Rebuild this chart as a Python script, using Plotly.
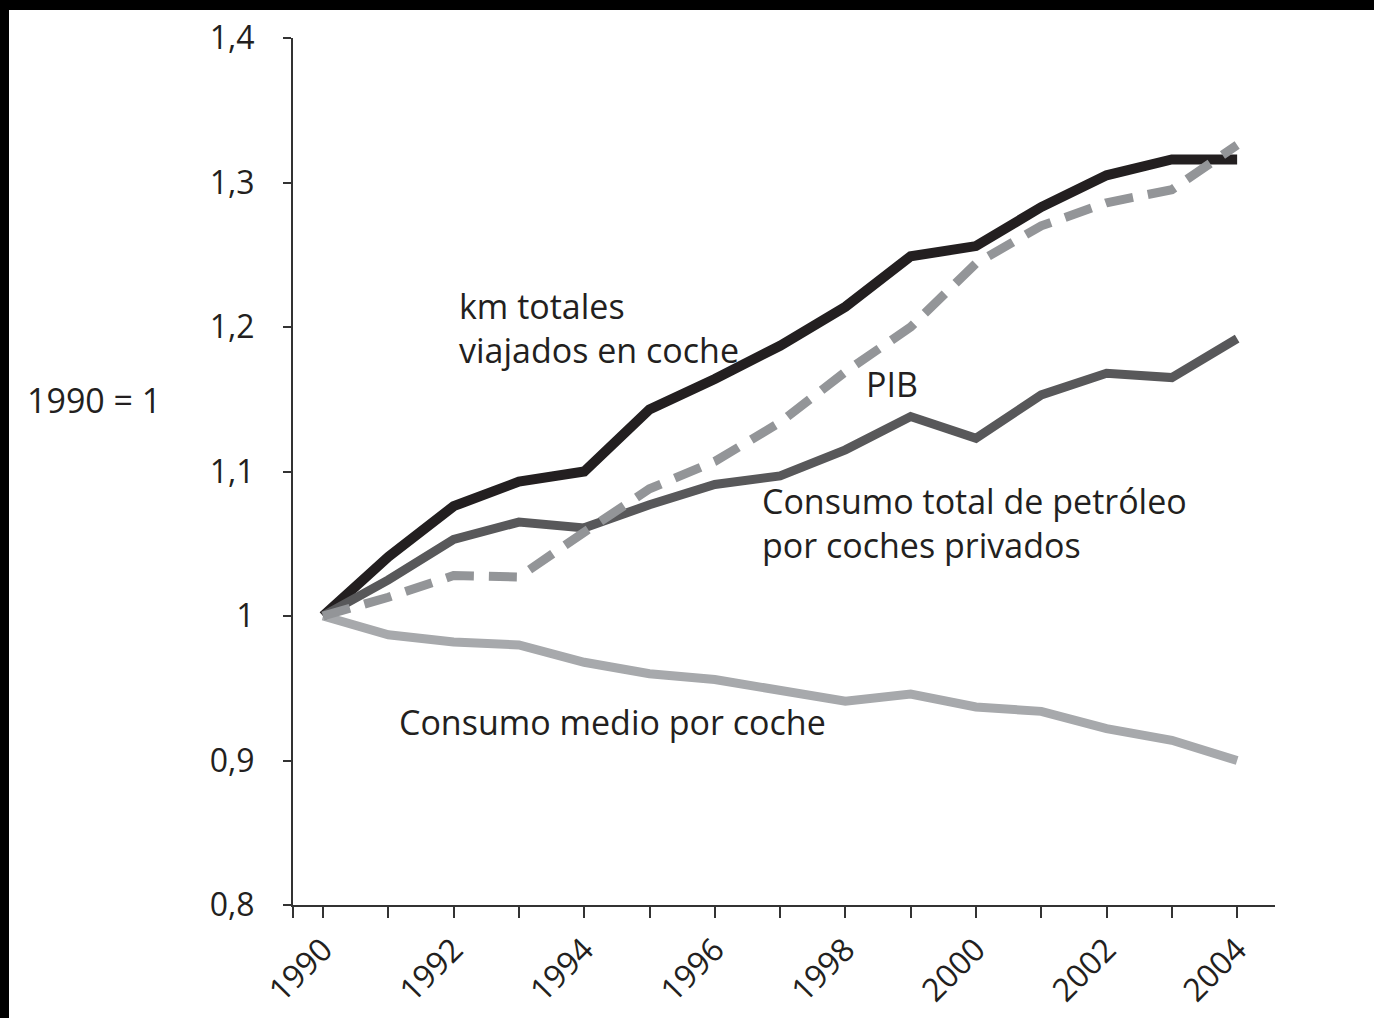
import plotly.graph_objects as go

years = list(range(1990, 2005))

# 1990 = 1
km_coche = [1.0, 1.041, 1.076, 1.093, 1.100, 1.143, 1.164, 1.187, 1.214, 1.249,
            1.256, 1.283, 1.305, 1.316, 1.316]
pib = [1.0, 1.013, 1.028, 1.027, 1.058, 1.088, 1.107, 1.134, 1.169, 1.200,
       1.244, 1.270, 1.286, 1.295, 1.326]
petroleo_total = [1.0, 1.025, 1.053, 1.065, 1.061, 1.077, 1.091, 1.097, 1.115, 1.138,
                  1.123, 1.153, 1.168, 1.165, 1.192]
consumo_medio = [1.0, 0.987, 0.982, 0.980, 0.968, 0.960, 0.956, 0.949, 0.941, 0.946,
                 0.937, 0.934, 0.922, 0.914, 0.900]

y_ticks = [0.8, 0.9, 1.0, 1.1, 1.2, 1.3, 1.4]
y_ticktext = ["0,8", "0,9", "1", "1,1", "1,2", "1,3", "1,4"]
x_labels = ["1990", "", "1992", "", "1994", "", "1996", "", "1998", "", "2000", "", "2002", "", "2004"]

TXT = "#231f20"
FONT = "Open Sans"
X_RANGE = [1989.54, 2004.58]

fig = go.Figure()

fig.add_trace(go.Scatter(x=years, y=km_coche, mode="lines",
                         line=dict(color="#231f20", width=10)))
fig.add_trace(go.Scatter(x=years, y=consumo_medio, mode="lines",
                         line=dict(color="#a7a9ac", width=9)))
fig.add_trace(go.Scatter(x=years, y=petroleo_total, mode="lines",
                         line=dict(color="#58585a", width=9)))
fig.add_trace(go.Scatter(x=years, y=pib, mode="lines",
                         line=dict(color="#939598", width=9, dash="28px,15px")))

labels = [
    ("km totales<br>viajados en coche", 1992.05, 1.1995, "left"),
    ("PIB", 1998.71, 1.1606, "center"),
    ("Consumo total de petróleo<br>por coches privados", 1996.69, 1.0646, "left"),
    ("Consumo medio por coche", 1991.13, 0.9266, "left"),
]
for txt, x, y, anchor in labels:
    fig.add_annotation(x=x, y=y, text=txt, showarrow=False, xanchor=anchor, align="left",
                       yanchor="middle", font=dict(family=FONT, size=34, color=TXT))

fig.add_annotation(x=-0.2025, y=0.5825, xref="paper", yref="paper", text="1990 = 1",
                   showarrow=False, xanchor="center", yanchor="middle",
                   font=dict(family=FONT, size=34, color=TXT))

# black frame strips at top and left edges of the picture
fig.add_shape(type="rect", xref="paper", yref="paper", x0=-0.3, x1=-0.2892,
              y0=-0.14, y1=1.05, fillcolor="black", line_width=0)
fig.add_shape(type="rect", xref="paper", yref="paper", x0=-0.3, x1=1.11,
              y0=1.0323, y1=1.05, fillcolor="black", line_width=0)

fig.update_layout(
    width=1374, height=1018,
    margin=dict(l=293, r=99, t=38, b=113),
    paper_bgcolor="white", plot_bgcolor="white",
    showlegend=False,
    font=dict(family=FONT, color=TXT),
)
fig.update_xaxes(
    range=X_RANGE, showgrid=False, zeroline=False, automargin=False,
    showline=True, linecolor="#333333", linewidth=2,
    ticks="outside", ticklen=11, tickwidth=2, tickcolor="#333333",
    tickvals=[X_RANGE[0]] + years, ticktext=[""] + x_labels,
    tickangle=-45, tickfont=dict(family=FONT, size=32, color=TXT),
)
fig.update_yaxes(
    range=[0.8, 1.4], showgrid=False, zeroline=False, automargin=False,
    showline=True, linecolor="#333333", linewidth=2,
    ticks="outside", ticklen=8, tickwidth=2, tickcolor="#333333",
    tickvals=y_ticks, ticktext=y_ticktext, ticklabelstandoff=22,
    tickfont=dict(family=FONT, size=32, color=TXT),
)

fig.write_html("out.html", config={"displayModeBar": False},
               post_script="document.body.style.margin='0';")
